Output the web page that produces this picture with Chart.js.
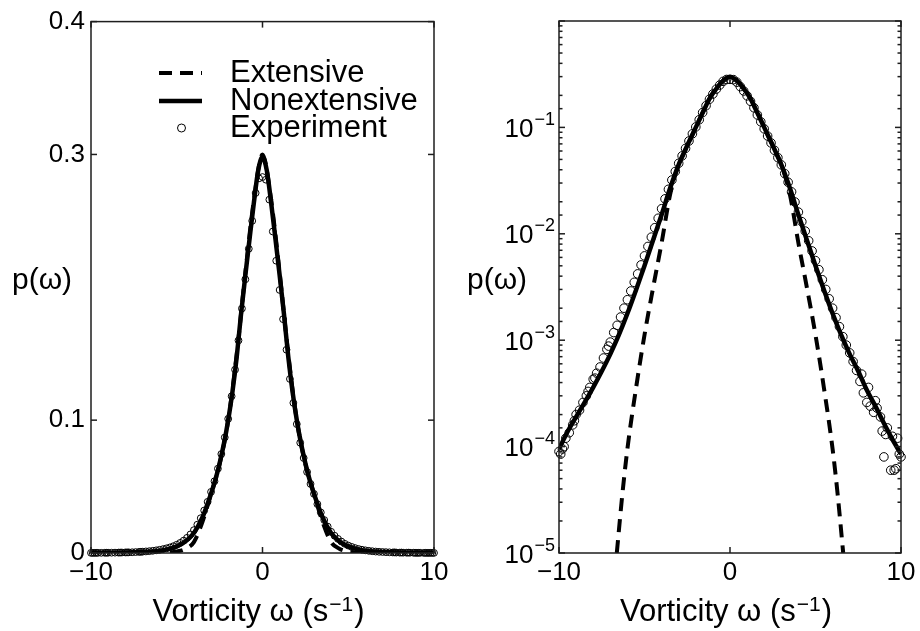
<!DOCTYPE html>
<html><head><meta charset="utf-8">
<script src="https://cdn.jsdelivr.net/npm/chart.js@4.4.1/dist/chart.umd.min.js"></script>
<style>
html,body{margin:0;padding:0;background:#fff;}
#wrap{position:relative;width:920px;height:631px;overflow:hidden;}
.panel{position:absolute;top:0;width:460px;height:631px;}
canvas{display:block;}
</style></head><body>
<div id="wrap">
<div class="panel" style="left:0"><canvas id="c1" width="460" height="631"></canvas></div>
<div class="panel" style="left:460px"><canvas id="c2" width="460" height="631"></canvas></div>
</div>
<script>
const FONT = '"Liberation Sans", Arial, Helvetica, "DejaVu Sans", sans-serif';

// ---- labels ----
const seriesNames = ['Extensive', 'Nonextensive', 'Experiment'];
const axisTitleXBase = 'Vorticity ω (s';
const axisTitleXSup = '\u22121';
const axisTitleXEnd = ')';
const axisTitleY = 'p(ω)';
const xTicks = [-10, 0, 10];
const linearYTicks = [0, 0.1, 0.3, 0.4];
const logYTickBase = '10';
const logYTickExps = ['\u22121', '\u22122', '\u22123', '\u22124', '\u22125'];

// ---- Extensive (dashed) ----
const extX = [-6.62, -6.3, -6, -5.5, -5, -4.5, -4, -3.5, -3, -2.5, -2, -1.5, -1, -0.5, 0,
              0.5, 1, 1.5, 2, 2.5, 3, 3.5, 4, 4.5, 5, 5.5, 6, 6.3, 6.62];
const extY = [1.0e-5, 3.5e-5, 9.5e-5, 3.5e-4, 1.12e-3, 3.1e-3, 8.2e-3, 0.0235, 0.0445, 0.0670, 0.100, 0.150, 0.211, 0.266, 0.300,
              0.266, 0.211, 0.150, 0.100, 0.0670, 0.0445, 0.0235, 8.2e-3, 3.1e-3, 1.12e-3, 3.5e-4, 9.5e-5, 3.5e-5, 1.0e-5];

// ---- Nonextensive (solid) ----
const nonextX = [-10, -9.5, -9, -8.5, -8, -7.5, -7, -6.5, -6, -5.5, -5, -4.5, -4, -3.5,
                 -3, -2.75, -2.5, -2.25, -2, -1.75, -1.5, -1.25, -1, -0.75, -0.5, -0.25, 0,
                 0.25, 0.5, 0.75, 1, 1.25, 1.5, 1.75, 2, 2.25, 2.5, 2.75, 3,
                 3.5, 4, 4.5, 5, 5.5, 6, 6.5, 7, 7.5, 8, 8.5, 9, 9.5, 10];
const nonextY = [9.5e-5, 1.38e-4, 1.9e-4, 2.6e-4, 3.6e-4, 5.1e-4, 7.4e-4, 1.12e-3, 1.78e-3, 2.95e-3, 5.0e-3, 8.7e-3, 0.0151, 0.0269,
                 0.0447, 0.055, 0.0676, 0.0822, 0.100, 0.1216, 0.148, 0.180, 0.209, 0.237, 0.264, 0.288, 0.298,
                 0.288, 0.264, 0.237, 0.209, 0.180, 0.148, 0.1216, 0.100, 0.0822, 0.0676, 0.055, 0.0447,
                 0.0269, 0.0151, 8.7e-3, 5.0e-3, 2.95e-3, 1.78e-3, 1.12e-3, 7.4e-4, 5.1e-4, 3.4e-4, 2.4e-4, 1.66e-4, 1.17e-4, 8.5e-5];

// ---- Experiment (open circles) ----
const expX = [-10, -9.8, -9.6, -9.4, -9.2, -9, -8.8, -8.6, -8.4, -8.2, -8, -7.8, -7.6, -7.4, -7.2, -7, -6.8, -6.6, -6.4, -6.2,
              -6, -5.8, -5.6, -5.4, -5.2, -5, -4.8, -4.6, -4.4, -4.2, -4, -3.8, -3.6, -3.4, -3.2, -3, -2.8, -2.6, -2.4, -2.2,
              -2, -1.8, -1.6, -1.4, -1.2, -1, -0.8, -0.6, -0.4, -0.2, 0,
              0.2, 0.4, 0.6, 0.8, 1, 1.2, 1.4, 1.6, 1.8, 2, 2.2, 2.4, 2.6, 2.8, 3, 3.2, 3.4, 3.6, 3.8, 4,
              4.2, 4.4, 4.6, 4.8, 5, 5.2, 5.4, 5.6, 5.8, 6, 6.2, 6.4, 6.6, 6.8, 7, 7.2, 7.4, 7.6, 7.8, 8,
              8.2, 8.4, 8.6, 8.8, 9, 9.2, 9.4, 9.6, 9.8, 10,
              7.7, 8.1, 8.5, 8.9, 9.1, 9.5, 9.7, 9.9, -9.9, -9.7, -9.1, -8.3, -7.9, -7.1];
const expY = [9.0e-5, 9.5e-5, 1.2e-4, 1.35e-4, 1.6e-4, 2.0e-4, 2.2e-4, 2.6e-4, 3.0e-4, 3.6e-4, 4.3e-4, 4.9e-4, 5.6e-4, 6.8e-4, 8.2e-4, 9.6e-4, 1.18e-3, 1.38e-3, 1.65e-3, 2.0e-3,
              2.4e-3, 2.9e-3, 3.5e-3, 4.2e-3, 5.1e-3, 6.2e-3, 7.6e-3, 9.3e-3, 0.0114, 0.0140, 0.0172, 0.0213, 0.0262, 0.032, 0.0385, 0.046, 0.054, 0.0635, 0.0745, 0.087,
              0.101, 0.118, 0.138, 0.160, 0.184, 0.206, 0.229, 0.250, 0.271, 0.282, 0.283,
              0.281, 0.266, 0.242, 0.220, 0.198, 0.176, 0.153, 0.131, 0.113, 0.097, 0.083, 0.0715, 0.061, 0.052, 0.0445, 0.0368, 0.0305, 0.0248, 0.0199, 0.0160,
              0.0130, 0.0106, 0.0086, 0.0069, 0.0056, 0.0046, 0.0037, 0.0030, 0.00245, 0.0020, 0.00163, 0.00134, 0.00108, 9.0e-4, 7.6e-4, 6.3e-4, 5.2e-4, 4.1e-4, 3.2e-4, 2.6e-4,
              2.4e-4, 2.1e-4, 2.3e-4, 1.9e-4, 8.0e-5, 1.5e-4, 6.0e-5, 6.0e-5, 1.2e-4, 8.0e-5,
              4.8e-4, 3.6e-4, 2.7e-4, 1.4e-4, 1.3e-4, 1.25e-4, 6.2e-5, 8.5e-5, 8.5e-5, 1.0e-4, 1.75e-4, 3.3e-4, 4.4e-4, 8.8e-4];

function pts(xs, ys) { return xs.map((x, i) => ({ x: x, y: ys[i] })); }
function fmtX(v) { return v < 0 ? '\u2212' + Math.abs(v) : String(v); }
function isDecade(v) { const e = Math.log10(v); return Math.abs(e - Math.round(e)) < 1e-6; }

const framePlugin = {
  id: 'frame',
  afterDatasetsDraw(chart, args, o) {
    const ctx = chart.ctx, a = chart.chartArea, xs = chart.scales.x, ys = chart.scales.y;
    ctx.save();
    const seg = (x1, y1, x2, y2) => { ctx.beginPath(); ctx.moveTo(x1, y1); ctx.lineTo(x2, y2); ctx.stroke(); };
    ctx.strokeStyle = '#1e1e1e'; ctx.lineWidth = 1.5; ctx.setLineDash([]);
    ctx.strokeRect(a.left, a.top, a.right - a.left, a.bottom - a.top);
    xs.ticks.forEach(t => {
      const p = xs.getPixelForValue(t.value);
      seg(p, a.bottom, p, a.bottom - 6); seg(p, a.top, p, a.top + 6);
    });
    ys.ticks.forEach(t => {
      const p = ys.getPixelForValue(t.value);
      const len = (o.log && !isDecade(t.value)) ? 3.5 : 6;
      seg(a.left, p, a.left + len, p); seg(a.right, p, a.right - len, p);
    });
    ctx.fillStyle = '#000'; ctx.textBaseline = 'alphabetic';

    // log tick labels 10^-n with real superscripts
    if (o.log) {
      ys.ticks.forEach(t => {
        if (!isDecade(t.value)) return;
        const e = Math.round(Math.log10(t.value));
        if (e >= 0) return;
        const p = ys.getPixelForValue(t.value);
        const right = a.left - 4;
        ctx.font = '18px ' + FONT;
        const sup = logYTickExps[-e - 1];
        const ws = ctx.measureText(sup).width;
        ctx.textAlign = 'left';
        ctx.fillText(sup, right - ws, p - 2.5);
        ctx.font = '26px ' + FONT;
        ctx.textAlign = 'right';
        ctx.fillText(logYTickBase, right - ws - 1, p + 9.5);
      });
    }

    // x axis title with superscript
    ctx.textAlign = 'left';
    ctx.font = '31px ' + FONT;
    const w1 = ctx.measureText(axisTitleXBase).width;
    const w3 = ctx.measureText(axisTitleXEnd).width;
    ctx.font = '21px ' + FONT;
    const w2 = ctx.measureText(axisTitleXSup).width;
    const total = w1 + w2 + 2 + w3;
    let tx = (a.left + a.right) / 2 - total / 2 - 4;
    ctx.font = '31px ' + FONT;
    ctx.fillText(axisTitleXBase, tx, 621);
    ctx.font = '21px ' + FONT;
    ctx.fillText(axisTitleXSup, tx + w1 + 1, 611);
    ctx.font = '31px ' + FONT;
    ctx.fillText(axisTitleXEnd, tx + w1 + w2 + 2, 621);

    // y axis title (horizontal)
    ctx.textBaseline = 'middle';
    ctx.font = '30px ' + FONT;
    ctx.fillText(axisTitleY, o.yTitleX, 281);

    if (o.legend) {
      const rows = [[1, 73], [0, 101], [2, 128]];
      rows.forEach(r => {
        const ds = chart.data.datasets[r[0]], y = r[1];
        ctx.strokeStyle = '#000';
        if (ds.showLine === false) {
          ctx.lineWidth = 1; ctx.setLineDash([]);
          ctx.beginPath(); ctx.arc(181.5, y, 4, 0, Math.PI * 2); ctx.stroke();
        } else {
          ctx.lineWidth = ds.borderWidth; ctx.setLineDash(ds.borderDash || []);
          seg(159, y, 202, y); ctx.setLineDash([]);
        }
        ctx.font = '31px ' + FONT;
        ctx.fillText(ds.label, 230, y);
      });
    }
    ctx.restore();
  }
};

function makeConfig(isLog) {
  const tickFont = { family: FONT, size: 26 };
  const yScale = isLog ? {
    type: 'logarithmic', min: 1e-5, max: 1,
    afterFit: s => { s.width = 99; },
    grid: { display: false, drawTicks: false }, border: { display: false },
    ticks: { display: false, autoSkip: false }
  } : {
    type: 'linear', min: 0, max: 0.4,
    afterBuildTicks: s => { s.ticks = linearYTicks.map(v => ({ value: v })); },
    afterFit: s => { s.width = 91; },
    grid: { display: false, drawTicks: false }, border: { display: false },
    ticks: { autoSkip: false, font: tickFont, color: '#000', padding: 6, callback: v => String(v) }
  };
  return {
    type: 'line',
    data: { datasets: [
      { label: seriesNames[1], data: pts(nonextX, nonextY), showLine: true, borderColor: '#000', borderWidth: 4.5,
        pointRadius: 0, cubicInterpolationMode: 'monotone', fill: false },
      { label: seriesNames[0], data: pts(extX, extY), showLine: true, borderColor: '#000', borderWidth: 4,
        borderDash: [13, 8], pointRadius: 0, cubicInterpolationMode: 'monotone', fill: false },
      { label: seriesNames[2], data: pts(expX, expY), showLine: false, pointStyle: 'circle',
        pointRadius: isLog ? 4.3 : 3.4, borderColor: '#000', borderWidth: 1, backgroundColor: 'rgba(255,255,255,0)',
        pointBorderColor: '#000', pointBackgroundColor: 'rgba(255,255,255,0)', pointBorderWidth: 1, clip: false }
    ]},
    options: {
      responsive: false, animation: false, devicePixelRatio: 1,
      layout: { padding: { top: 21, right: isLog ? 19 : 26, bottom: 0, left: 0 } },
      plugins: { legend: { display: false }, tooltip: { enabled: false },
                 frame: { log: isLog, legend: !isLog, yTitleX: isLog ? 7 : 12 } },
      scales: {
        x: {
          type: 'linear', min: -10, max: 10,
          afterBuildTicks: s => { s.ticks = xTicks.map(v => ({ value: v })); },
          afterFit: s => { s.height = 78; },
          grid: { display: false, drawTicks: false }, border: { display: false },
          ticks: { autoSkip: false, maxRotation: 0, font: tickFont, color: '#000', padding: 4, callback: v => fmtX(v) },
          title: { display: false }
        },
        y: yScale
      }
    },
    plugins: [framePlugin]
  };
}

new Chart(document.getElementById('c1'), makeConfig(false));
new Chart(document.getElementById('c2'), makeConfig(true));
</script>
</body></html>
